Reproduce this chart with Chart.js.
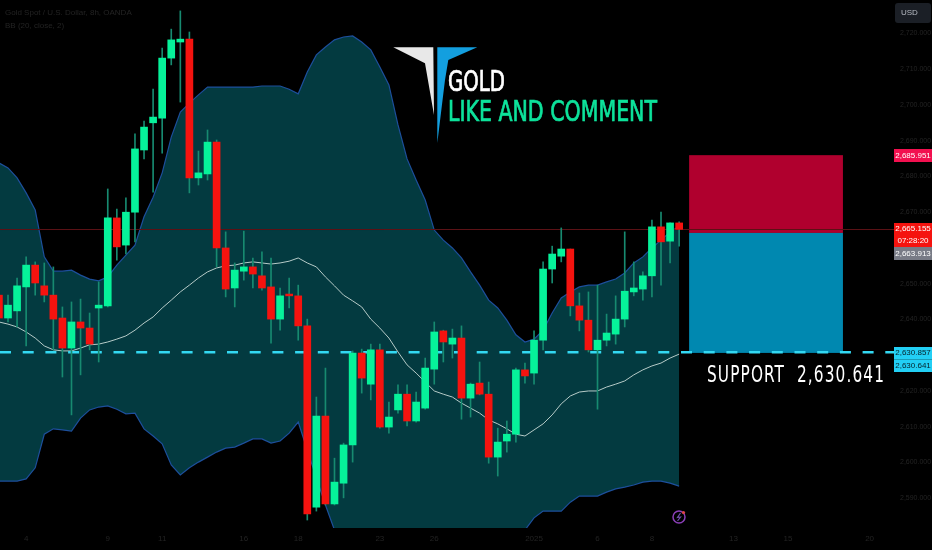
<!DOCTYPE html>
<html>
<head>
<meta charset="utf-8">
<title>Gold Spot / U.S. Dollar</title>
<script src="https://cdn.jsdelivr.net/npm/chart.js@4/dist/chart.umd.min.js"></script>
<style>
  html, body { margin: 0; padding: 0; background: #000; }
  canvas { display: block; }
</style>
</head>
<body>
<canvas id="myChart" width="932" height="550"></canvas>
<script>
// 8h candles, first one sits just off the left edge
const firstIndex = -1;
const opens = [2646.8,2640.4,2642.4,2649.1,2655.2,2649.4,2646.8,2640.4,2632.0,2639.3,2637.6,2643.2,2643.8,2668.4,2660.8,2670.0,2687.4,2695.0,2696.3,2713.1,2717.6,2718.4,2679.6,2680.7,2689.6,2660.0,2648.8,2653.5,2654.7,2652.2,2649.1,2640.1,2647.1,2646.6,2638.2,2587.5,2613.0,2588.4,2594.2,2604.9,2630.6,2621.9,2631.5,2609.9,2614.7,2619.1,2611.6,2615.2,2626.1,2636.8,2633.1,2634.8,2618.0,2622.2,2619.1,2601.5,2606.0,2607.9,2625.9,2625.0,2634.2,2654.1,2657.7,2659.7,2643.8,2639.8,2631.5,2634.2,2635.9,2640.1,2647.7,2648.5,2652.2,2665.9,2661.9,2667.0];
const highs = [2648.2,2646.8,2651.6,2657.5,2656.1,2655.8,2654.7,2643.5,2644.9,2645.7,2641.8,2650.5,2676.5,2670.9,2674.0,2691.9,2695.5,2704.4,2715.9,2721.2,2726.3,2720.4,2687.1,2693.0,2690.2,2664.5,2655.8,2664.7,2657.2,2658.9,2657.2,2648.8,2651.6,2649.6,2640.1,2618.3,2626.4,2601.2,2605.4,2631.2,2631.7,2633.1,2633.1,2616.9,2621.7,2621.7,2619.7,2629.2,2639.3,2637.0,2637.3,2638.2,2622.2,2628.1,2622.5,2609.6,2611.6,2626.4,2627.8,2636.8,2656.1,2660.5,2665.6,2659.7,2647.4,2647.7,2649.6,2641.5,2646.6,2664.5,2656.1,2653.3,2667.8,2670.0,2667.0,2667.3];
const lows = [2639.3,2639.3,2637.9,2632.6,2646.8,2644.9,2631.5,2623.9,2613.3,2624.5,2631.5,2628.1,2643.5,2656.6,2658.3,2661.7,2684.9,2675.6,2686.5,2711.2,2700.8,2675.4,2677.6,2679.0,2654.7,2646.3,2643.5,2651.0,2648.8,2648.2,2633.4,2637.0,2643.2,2634.2,2583.9,2586.4,2588.1,2588.1,2590.1,2600.1,2619.4,2617.5,2609.6,2608.2,2613.8,2610.2,2611.3,2614.9,2621.9,2628.1,2629.2,2612.1,2612.7,2618.9,2599.8,2596.2,2602.9,2605.7,2622.2,2621.9,2631.5,2650.2,2656.1,2641.0,2636.8,2630.9,2614.9,2632.6,2633.1,2637.9,2646.6,2645.4,2646.3,2649.6,2655.8,2660.5];
const closes = [2640.4,2644.0,2649.4,2655.2,2650.2,2646.8,2640.1,2632.0,2639.3,2637.6,2633.1,2644.0,2668.4,2660.3,2670.0,2687.7,2693.8,2696.6,2713.1,2718.2,2718.4,2679.6,2681.0,2689.6,2660.0,2648.5,2653.8,2654.7,2652.7,2648.8,2640.1,2646.6,2646.6,2638.2,2585.6,2613.0,2588.4,2594.5,2604.9,2630.6,2623.6,2631.5,2609.9,2612.7,2619.1,2611.6,2616.9,2626.4,2636.5,2633.7,2634.8,2618.0,2621.9,2619.1,2601.5,2605.7,2607.9,2625.9,2624.2,2634.2,2654.1,2658.3,2659.7,2643.8,2639.8,2631.5,2634.2,2636.2,2640.1,2647.9,2648.8,2652.2,2665.9,2661.7,2667.0,2665.2];

// Bollinger bands, same length as the candles
const bbUpper = [2683.8,2682.4,2679.6,2675.4,2670.6,2657.5,2653.5,2653.5,2653.8,2652.4,2651.3,2650.8,2651.9,2655.2,2658.0,2660.8,2668.7,2674.2,2681.0,2691.0,2698.0,2700.5,2702.8,2705.0,2705.0,2705.0,2705.0,2705.0,2705.0,2705.3,2705.3,2705.3,2704.4,2703.1,2709.2,2714.0,2716.2,2718.2,2719.0,2719.3,2717.6,2715.4,2710.6,2705.6,2694.4,2684.9,2679.0,2673.4,2665.0,2662.2,2660.0,2657.2,2653.3,2649.6,2645.4,2643.2,2639.8,2635.7,2633.7,2634.5,2637.0,2641.8,2646.0,2647.7,2649.1,2649.6,2649.6,2650.5,2651.3,2653.0,2655.8,2657.5,2660.0,2662.2,2664.5,2666.1];
const bbBasis = [2639.3,2638.7,2637.9,2636.5,2634.8,2632.6,2631.5,2631.2,2631.2,2632.0,2632.9,2633.1,2633.7,2634.5,2635.4,2637.0,2639.0,2640.7,2643.2,2645.4,2647.7,2649.6,2651.6,2653.3,2654.4,2655.0,2655.2,2655.8,2656.1,2655.8,2655.5,2655.8,2656.3,2657.2,2655.8,2654.7,2651.9,2649.4,2646.8,2645.2,2643.5,2640.1,2637.6,2634.8,2630.9,2627.3,2625.0,2622.5,2620.0,2619.1,2618.3,2616.6,2615.2,2613.8,2611.9,2610.8,2609.4,2607.9,2607.4,2609.1,2610.8,2613.3,2616.4,2618.6,2619.7,2620.0,2620.0,2621.1,2621.9,2622.8,2624.5,2625.9,2627.0,2627.8,2629.2,2630.3];
const bbLower = [2594.8,2594.8,2594.8,2595.4,2598.5,2607.9,2609.4,2609.1,2608.8,2612.4,2614.7,2615.5,2615.8,2614.9,2613.6,2613.8,2609.4,2607.4,2605.2,2599.3,2596.5,2598.5,2600.1,2601.5,2602.9,2604.0,2604.3,2605.4,2606.6,2606.6,2605.4,2606.0,2608.2,2611.3,2603.5,2595.7,2588.1,2581.1,2576.9,2572.7,2568.5,2565.7,2562.9,2561.5,2561.5,2562.9,2564.3,2565.7,2567.1,2568.5,2568.5,2569.9,2569.9,2571.3,2571.3,2572.7,2574.1,2576.9,2581.1,2584.5,2586.4,2586.4,2586.4,2588.9,2590.6,2590.6,2590.6,2591.7,2592.6,2593.1,2593.7,2594.5,2594.8,2594.8,2594.2,2593.4];

const timeTickIndex = [2, 11, 17, 26, 32, 41, 47, 58, 65, 71, 80, 86, 95];
const timeTickLabels = ['4', '9', '11', '16', '18', '23', '26', '2025', '6', '8', '13', '15', '20'];

const lastPrice = 2665.155;
const supportPrice = 2630.857;
const targetPrice = 2685.951;
const entryPrice = 2664.2;
const stopPrice = 2630.641;
const avgPrice = 2663.913;
const boxFrom = 75.1;
const boxTo = 92.06;

const xMin = -0.882;
const xMax = 97.69;
const yMin = 2581.67;
const yMax = 2729.35;

const GREEN = '#06f29a';
const RED = '#f5130f';
const WICK = '#178a70';
const FAINT = '#232323';

const bars = opens.map((o, i) => ({ x: i + firstIndex, y: [o, closes[i]] }));
const wicks = lows.map((l, i) => ({ x: i + firstIndex, y: [l, highs[i]] }));
const linePoints = arr => arr.map((v, i) => ({ x: i + firstIndex, y: v }));
const priceLabel = v => v.toLocaleString('en-US', { minimumFractionDigits: 3 });

// horizontally fits a string to the width it has in the picture
function fitText(ctx, text, x, baseline, width, font, color, opts = {}) {
    ctx.save();
    ctx.font = font;
    ctx.fillStyle = color;
    ctx.strokeStyle = color;
    ctx.textAlign = 'left';
    ctx.textBaseline = 'alphabetic';
    ctx.letterSpacing = opts.spacing || '0px';
    const measured = ctx.measureText(text).width;
    ctx.translate(x, baseline);
    ctx.scale(width / measured, 1);
    ctx.fillText(text, 0, 0);
    if (opts.weight) {
        ctx.lineWidth = opts.weight;
        ctx.strokeText(text, 0, 0);
    }
    ctx.restore();
}

function priceTag(ctx, top, height, color, textColor, lines) {
    ctx.fillStyle = color;
    ctx.fillRect(894, top, 38, height);
    ctx.fillStyle = textColor;
    ctx.font = '8px "Liberation Sans"';
    ctx.textAlign = 'center';
    ctx.textBaseline = 'middle';
    lines.forEach((t, i) => {
        ctx.fillText(t, 913, top + (height / lines.length) * (i + 0.5));
    });
}

const positionBox = {
    id: 'positionBox',
    beforeDatasetsDraw(chart) {
        const { ctx, scales: { x, y } } = chart;
        const left = x.getPixelForValue(boxFrom);
        const right = x.getPixelForValue(boxTo);
        ctx.save();
        ctx.fillStyle = '#b0002e';
        ctx.fillRect(left, y.getPixelForValue(targetPrice), right - left, y.getPixelForValue(entryPrice) - y.getPixelForValue(targetPrice));
        ctx.fillStyle = '#0088b0';
        ctx.fillRect(left, y.getPixelForValue(entryPrice), right - left, y.getPixelForValue(stopPrice) - y.getPixelForValue(entryPrice));
        ctx.restore();
    }
};

const overlay = {
    id: 'overlay',
    afterDraw(chart) {
        const { ctx } = chart;
        ctx.save();

        // legend
        ctx.fillStyle = FAINT;
        ctx.font = '8px "Liberation Sans"';
        ctx.textAlign = 'left';
        ctx.textBaseline = 'middle';
        ctx.fillText('Gold Spot / U.S. Dollar, 8h, OANDA', 5, 13);
        ctx.fillText('BB (20, close, 2)', 5, 26);

        // logo
        ctx.fillStyle = '#e8e8e8';
        ctx.beginPath();
        ctx.moveTo(393.3, 47.3);
        ctx.lineTo(433.3, 47.3);
        ctx.lineTo(434, 115);
        ctx.lineTo(425, 63.3);
        ctx.closePath();
        ctx.fill();
        ctx.fillStyle = '#139fdf';
        ctx.beginPath();
        ctx.moveTo(437.3, 47.3);
        ctx.lineTo(477.3, 47.3);
        ctx.lineTo(448.3, 60);
        ctx.lineTo(445, 80);
        ctx.lineTo(437.3, 143);
        ctx.closePath();
        ctx.fill();

        const headFont = '29px "DejaVu Sans Condensed", "DejaVu Sans"';
        fitText(ctx, 'GOLD', 448, 91, 57, headFont, '#ffffff', { weight: 0.7 });
        fitText(ctx, 'LIKE AND COMMENT', 448, 121, 209, headFont, '#0de29b', { weight: 0.7 });
        fitText(ctx, 'SUPPORT  2,630.641', 707, 382, 178, '23px "DejaVu Sans Condensed", "DejaVu Sans"', '#ffffff', { spacing: '1.5px' });

        // price tags
        priceTag(ctx, 149, 13, '#f2104f', '#ffffff', [priceLabel(targetPrice)]);
        priceTag(ctx, 223, 24, '#f5130f', '#ffffff', [priceLabel(lastPrice), '07:28:20']);
        priceTag(ctx, 247, 13, '#787b86', '#ffffff', [priceLabel(avgPrice)]);
        priceTag(ctx, 347, 12.5, '#22cff5', '#06222a', [priceLabel(supportPrice)]);
        priceTag(ctx, 359.5, 12.5, '#22cff5', '#06222a', [priceLabel(stopPrice)]);

        // currency button
        ctx.fillStyle = '#1b1f26';
        ctx.beginPath();
        ctx.roundRect(895, 3, 36, 20, 3);
        ctx.fill();
        ctx.fillStyle = '#b8bcc4';
        ctx.font = '8px "Liberation Sans"';
        ctx.textAlign = 'left';
        ctx.fillText('USD', 901, 13);

        // flash icon
        ctx.strokeStyle = '#8b3fb8';
        ctx.lineWidth = 1.5;
        ctx.beginPath();
        ctx.arc(679, 517, 6, 0, Math.PI * 2);
        ctx.stroke();
        ctx.strokeStyle = '#6f4ea8';
        ctx.lineWidth = 1.2;
        ctx.beginPath();
        ctx.moveTo(680.5, 513);
        ctx.lineTo(677.5, 517.5);
        ctx.lineTo(680.5, 517);
        ctx.lineTo(677.5, 521);
        ctx.stroke();
        ctx.fillStyle = '#e04545';
        ctx.beginPath();
        ctx.arc(683.5, 512.5, 1.6, 0, Math.PI * 2);
        ctx.fill();

        ctx.restore();
    }
};

const ctx = document.getElementById('myChart').getContext('2d');

new Chart(ctx, {
    type: 'bar',
    data: {
        datasets: [
            {
                type: 'line',
                label: 'BB upper',
                data: linePoints(bbUpper),
                borderColor: '#1d4f9c',
                borderWidth: 1.2,
                pointRadius: 0,
                tension: 0,
                fill: '+1',
                backgroundColor: '#033a40',
                order: 6,
            },
            {
                type: 'line',
                label: 'BB lower',
                data: linePoints(bbLower),
                borderColor: '#1d4f9c',
                borderWidth: 1.2,
                pointRadius: 0,
                tension: 0,
                fill: false,
                order: 5,
            },
            {
                type: 'line',
                label: 'BB basis',
                data: linePoints(bbBasis),
                borderColor: '#b6cbc8',
                borderWidth: 1,
                pointRadius: 0,
                tension: 0,
                fill: false,
                order: 4,
            },
            {
                type: 'line',
                label: 'Last price',
                data: [{ x: xMin, y: lastPrice }, { x: xMax, y: lastPrice }],
                borderColor: '#5c1216',
                borderWidth: 1,
                pointRadius: 0,
                fill: false,
                order: 3,
            },
            {
                type: 'line',
                label: 'Support',
                data: [{ x: xMin, y: supportPrice }, { x: xMax, y: supportPrice }],
                borderColor: '#33d8f2',
                borderWidth: 2.5,
                borderDash: [11, 11.7],
                pointRadius: 0,
                fill: false,
                order: 3,
            },
            {
                label: 'Wicks',
                data: wicks,
                backgroundColor: WICK,
                barThickness: 1,
                grouped: false,
                order: 2,
            },
            {
                label: 'Bodies',
                data: bars,
                backgroundColor: c => (closes[c.dataIndex] >= opens[c.dataIndex] ? GREEN : RED),
                barThickness: 7,
                grouped: false,
                order: 1,
            },
        ],
    },
    options: {
        responsive: false,
        animation: false,
        layout: { padding: 0 },
        plugins: { legend: { display: false }, tooltip: { enabled: false } },
        scales: {
            x: {
                type: 'linear',
                offset: false,
                min: xMin,
                max: xMax,
                grid: { display: false, drawTicks: false },
                border: { display: false },
                afterFit: scale => {
                    scale.height = 22;
                    scale.paddingLeft = 0;
                    scale.paddingRight = 0;
                },
                afterBuildTicks: scale => {
                    scale.ticks = timeTickIndex.map(v => ({ value: v }));
                },
                ticks: {
                    color: FAINT,
                    font: { size: 8, family: 'Liberation Sans' },
                    maxRotation: 0,
                    autoSkip: false,
                    padding: 6,
                    callback: v => timeTickLabels[timeTickIndex.indexOf(v)],
                },
            },
            y: {
                position: 'right',
                min: yMin,
                max: yMax,
                grid: { display: false, drawTicks: false },
                border: { display: false },
                afterFit: scale => {
                    scale.width = 38;
                    scale.paddingTop = 0;
                    scale.paddingBottom = 0;
                },
                ticks: {
                    stepSize: 10,
                    includeBounds: false,
                    color: FAINT,
                    font: { size: 7, family: 'Liberation Sans' },
                    padding: 6,
                    callback: v => priceLabel(v),
                },
            },
        },
    },
    plugins: [positionBox, overlay],
});
</script>
</body>
</html>
